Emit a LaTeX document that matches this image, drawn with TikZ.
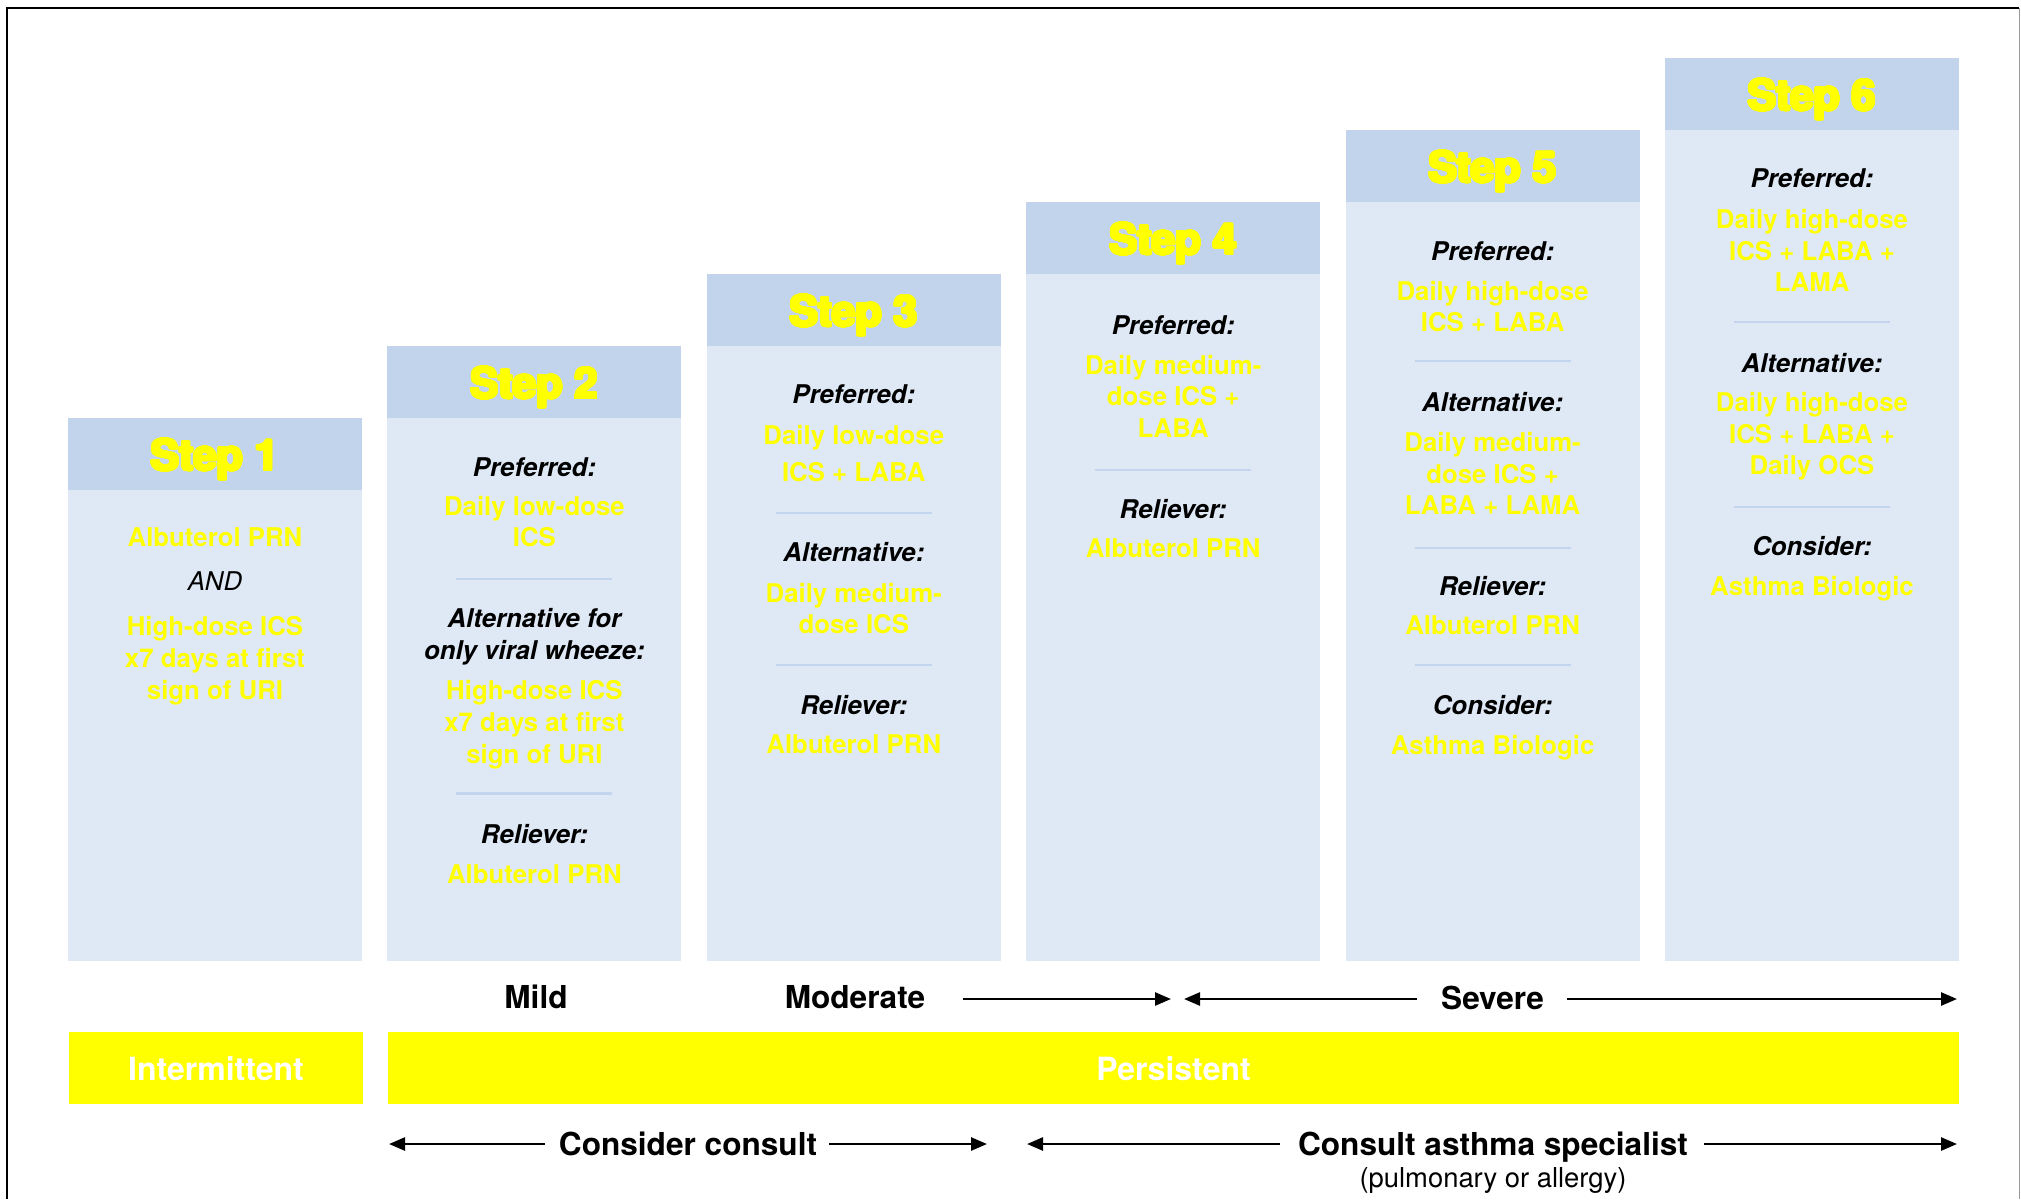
\documentclass[tikz,border=0pt]{standalone}
\usepackage{fontspec}
\usepackage{contour}
\contourlength{0.7pt}
\contournumber{24}
\setmainfont{TeX Gyre Heros}
\usetikzlibrary{arrows.meta}
\definecolor{hdrblue}{HTML}{C1D4EC}
\definecolor{bodyblue}{HTML}{DFE8F5}
\definecolor{sepblue}{HTML}{C3D5EE}
\definecolor{ylw}{HTML}{FFFF00}
\begin{document}
\begin{tikzpicture}[x=0.5pt,y=-0.5pt,
  every node/.style={inner sep=0pt,outer sep=0pt,text depth=0pt,anchor=center},
  drug/.style={font=\fontsize{12.9pt}{15pt}\selectfont\bfseries,text=ylw,text height=9.3pt},
  lbl/.style={font=\fontsize{12.9pt}{15pt}\selectfont\bfseries\itshape,text=black,text height=9.3pt},
  andlbl/.style={font=\fontsize{12.9pt}{15pt}\selectfont\itshape,text=black,text height=9.3pt},
  stepttl/.style={font=\fontsize{21.3pt}{25pt}\selectfont\bfseries,text=ylw,text height=15.5pt},
  sev/.style={font=\fontsize{15.8pt}{18pt}\selectfont\bfseries,text=black,text height=11.4pt},
  bartxt/.style={font=\fontsize{16pt}{18pt}\selectfont\bfseries,text=white,text height=11.5pt},
  subtxt/.style={font=\fontsize{13.7pt}{16pt}\selectfont,text=black,text height=9.9pt},
  sepline/.style={draw=sepblue,line width=1.15pt},
  arr/.style={draw=black,line width=1.3pt,-{Triangle[length=8pt,width=6.5pt]}},
]
\useasboundingbox (0,0) rectangle (2021,1199);
% frame
\draw[line width=1pt] (6.5,1199) -- (6.5,7.5) -- (2019,7.5);
\draw[draw=black!40,line width=0.6pt] (2019.5,8) -- (2019.5,1199);

% columns
\foreach \i in {0,...,5} {
  \pgfmathsetmacro\L{68+319.4*\i}
  \pgfmathsetmacro\T{418-72*\i}
  \pgfmathtruncatemacro\n{\i+1}
  \fill[bodyblue] (\L,\T) rectangle (\L+294,961);
  \fill[hdrblue] (\L,\T) rectangle (\L+294,\T+72);
  \node[stepttl] (step\n) at (\L+147,\T+37) {\contour{ylw}{Step \n}};
}

% Step 1
\node[drug] (a1) at (215,537.5) {Albuterol PRN};
\node[andlbl] (a2) at (215,581) {AND};
\node[drug] (a3) at (215,626) {High-dose ICS};
\node[drug] (a4) at (215,658) {x7 days at first};
\node[drug] (a5) at (215,690) {sign of URI};

% Step 2
\node[lbl] (b1) at (534.4,467) {Preferred:};
\node[drug] (b2) at (534.4,506) {Daily low-dose};
\node[drug] (b3) at (534.4,537.5) {ICS};
\draw[sepline] (534.4-78,579) -- (534.4+78,579);
\node[lbl] (b4) at (534.4,618.5) {Alternative for};
\node[lbl] (b5) at (534.4,650) {only viral wheeze:};
\node[drug] (b6) at (534.4,690) {High-dose ICS};
\node[drug] (b7) at (534.4,722) {x7 days at first};
\node[drug] (b8) at (534.4,754) {sign of URI};
\draw[sepline] (534.4-78,793.5) -- (534.4+78,793.5);
\node[lbl] (b9) at (534.4,834) {Reliever:};
\node[drug] (b10) at (534.4,874) {Albuterol PRN};

% Step 3
\node[lbl] (c1) at (853.8,394.5) {Preferred:};
\node[drug] (c2) at (853.8,435) {Daily low-dose};
\node[drug] (c3) at (853.8,472) {ICS + LABA};
\draw[sepline] (853.8-78,513) -- (853.8+78,513);
\node[lbl] (c4) at (853.8,552) {Alternative:};
\node[drug] (c5) at (853.8,593) {Daily medium-};
\node[drug] (c6) at (853.8,624) {dose ICS};
\draw[sepline] (853.8-78,665) -- (853.8+78,665);
\node[lbl] (c7) at (853.8,705) {Reliever:};
\node[drug] (c8) at (853.8,744) {Albuterol PRN};

% Step 4
\node[lbl] (d1) at (1173.2,325.5) {Preferred:};
\node[drug] (d2) at (1173.2,365) {Daily medium-};
\node[drug] (d3) at (1173.2,396.5) {dose ICS +};
\node[drug] (d4) at (1173.2,428) {LABA};
\draw[sepline] (1173.2-78,470) -- (1173.2+78,470);
\node[lbl] (d5) at (1173.2,509) {Reliever:};
\node[drug] (d6) at (1173.2,548.5) {Albuterol PRN};

% Step 5
\node[lbl] (e1) at (1492.6,251) {Preferred:};
\node[drug] (e2) at (1492.6,291) {Daily high-dose};
\node[drug] (e3) at (1492.6,322) {ICS + LABA};
\draw[sepline] (1492.6-78,361) -- (1492.6+78,361);
\node[lbl] (e4) at (1492.6,402) {Alternative:};
\node[drug] (e5) at (1492.6,442) {Daily medium-};
\node[drug] (e6) at (1492.6,474) {dose ICS +};
\node[drug] (e7) at (1492.6,505.5) {LABA + LAMA};
\draw[sepline] (1492.6-78,548) -- (1492.6+78,548);
\node[lbl] (e8) at (1492.6,586) {Reliever:};
\node[drug] (e9) at (1492.6,625) {Albuterol PRN};
\draw[sepline] (1492.6-78,665) -- (1492.6+78,665);
\node[lbl] (e10) at (1492.6,705) {Consider:};
\node[drug] (e11) at (1492.6,745) {Asthma Biologic};

% Step 6
\node[lbl] (f1) at (1812,178) {Preferred:};
\node[drug] (f2) at (1812,219) {Daily high-dose};
\node[drug] (f3) at (1812,251) {ICS + LABA +};
\node[drug] (f4) at (1812,282) {LAMA};
\draw[sepline] (1812-78,322) -- (1812+78,322);
\node[lbl] (f5) at (1812,363) {Alternative:};
\node[drug] (f6) at (1812,402) {Daily high-dose};
\node[drug] (f7) at (1812,434) {ICS + LABA +};
\node[drug] (f8) at (1812,465) {Daily OCS};
\draw[sepline] (1812-78,507) -- (1812+78,507);
\node[lbl] (f9) at (1812,546) {Consider:};
\node[drug] (f10) at (1812,586) {Asthma Biologic};

% severity row
\node[sev] (mild) at (536,997) {Mild};
\node[sev] (moderate) at (855,997) {Moderate};
\node[sev] (severe) at (1492.5,998) {Severe};
\coordinate (modA) at (963,999);
\coordinate (modB) at (1171,999);
\coordinate (sevA) at (1417,999);
\coordinate (sevB) at (1184,999);
\coordinate (sevC) at (1567,999);
\coordinate (sevD) at (1957,999);
\draw[arr] (modA) -- (modB);
\draw[arr] (sevA) -- (sevB);
\draw[arr] (sevC) -- (sevD);

% bars
\fill[ylw] (69,1032) rectangle (363,1104);
\fill[ylw] (388,1032) rectangle (1959,1104);
\node[bartxt] (intermittent) at (216,1068.5) {Intermittent};
\node[bartxt] (persistent) at (1173.5,1068.5) {Persistent};

% consult row
\node[sev] (consider) at (688,1144) {Consider consult};
\node[sev] (specialist) at (1493,1144) {Consult asthma specialist};
\node[subtxt] (pulm) at (1493,1178) {(pulmonary or allergy)};
\coordinate (ccA) at (545,1144);
\coordinate (ccB) at (389,1144);
\coordinate (ccC) at (829,1144);
\coordinate (ccD) at (987,1144);
\coordinate (spA) at (1280,1144);
\coordinate (spB) at (1027,1144);
\coordinate (spC) at (1704,1144);
\coordinate (spD) at (1957,1144);
\draw[arr] (ccA) -- (ccB);
\draw[arr] (ccC) -- (ccD);
\draw[arr] (spA) -- (spB);
\draw[arr] (spC) -- (spD);
\end{tikzpicture}
\end{document}
